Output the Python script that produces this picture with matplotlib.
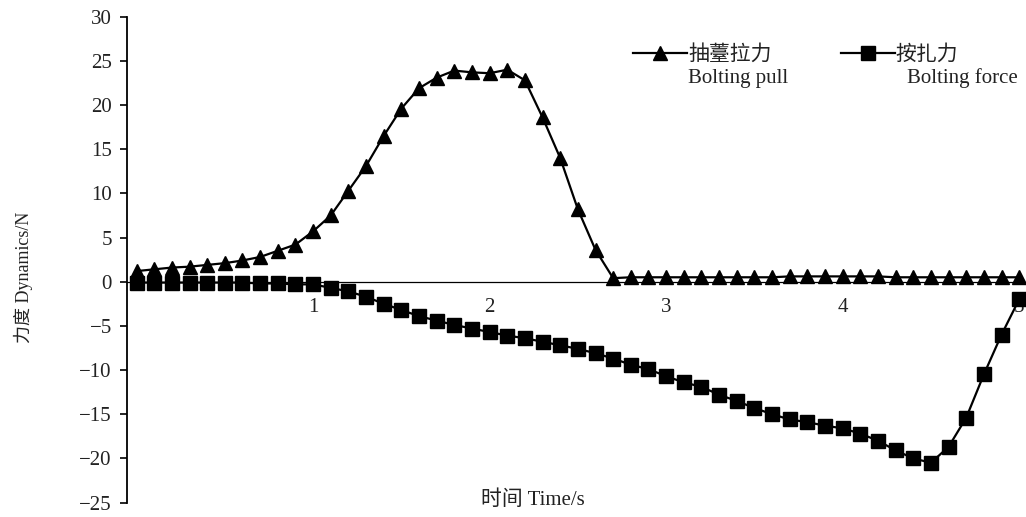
import numpy as np
import matplotlib
matplotlib.use("Agg")
import matplotlib.pyplot as plt

plt.rcParams["font.family"] = ["Liberation Serif", "Noto Sans CJK SC"]
plt.rcParams["axes.unicode_minus"] = True

# sampling time, s
time = np.round(np.arange(0, 5.05, 0.1), 1)

# bolting pull (抽薹拉力), N
pull = [1.2, 1.4, 1.6, 1.7, 1.9, 2.1, 2.4, 2.8, 3.5, 4.2,
        5.7, 7.5, 10.3, 13.1, 16.5, 19.6, 21.9, 23.1, 23.9, 23.7,
        23.6, 24.0, 22.8, 18.6, 14.0, 8.2, 3.6, 0.4, 0.5, 0.5,
        0.5, 0.5, 0.5, 0.5, 0.5, 0.5, 0.5, 0.6, 0.6, 0.6,
        0.6, 0.6, 0.6, 0.5, 0.5, 0.5, 0.5, 0.5, 0.5, 0.5,
        0.5]

# bolting force (按扎力), N
force = [-0.1, -0.1, -0.1, -0.1, -0.1, -0.1, -0.1, -0.2, -0.2, -0.3,
         -0.3, -0.7, -1.1, -1.7, -2.5, -3.2, -3.9, -4.4, -4.9, -5.3,
         -5.7, -6.1, -6.4, -6.8, -7.2, -7.6, -8.1, -8.7, -9.4, -9.9,
         -10.7, -11.4, -11.9, -12.8, -13.5, -14.3, -15.0, -15.6, -15.9, -16.3,
         -16.6, -17.2, -18.0, -19.1, -20.0, -20.5, -18.7, -15.4, -10.5, -6.0,
         -2.0]

fig = plt.figure(figsize=(10.26, 5.17), dpi=100)
ax = fig.add_axes([0.1238, 0.028, 0.8704, 0.9397])

p1, = ax.plot(time, pull, color="black", lw=1.6, marker="^", markersize=10,
              clip_on=False, zorder=3)
p2, = ax.plot(time, force, color="black", lw=1.6, marker="s", markersize=10.5,
              clip_on=False, zorder=4)

ax.set_xlim(-0.054, 5.005)
ax.set_ylim(-25, 30)
ax.set_yticks(range(-25, 31, 5))
ax.set_xticks([1, 2, 3, 4, 5])

for side in ("top", "right"):
    ax.spines[side].set_visible(False)
ax.spines["bottom"].set_position(("data", 0))
ax.spines["bottom"].set_linewidth(0.9)
ax.spines["left"].set_linewidth(1.3)

ax.tick_params(axis="x", length=0, pad=12, labelsize=15, labelcolor="#222222")
ax.tick_params(axis="y", direction="out", length=5, width=1.2, pad=6,
               labelsize=15, labelcolor="#222222")

fig.text(0.519, 0.033, "时间 Time/s", ha="center", va="center",
         fontsize=15, color="#222222")
fig.text(0.023, 0.464, "力度 Dynamics/N", ha="center", va="center",
         rotation=90, fontsize=13, color="#222222")

# legend keeps the Chinese names; English names go on a second line below
leg = ax.legend([p1, p2], ["抽薹拉力", "按扎力"], ncol=2, frameon=False,
                loc="center left", bbox_to_anchor=(0.617, 0.893),
                bbox_transform=fig.transFigure, borderpad=0, borderaxespad=0,
                handlelength=2.6, handletextpad=0.05, columnspacing=3.3,
                fontsize=15)
for txt in leg.get_texts():
    txt.set_color("#222222")

fig.text(0.6706, 0.849, "Bolting pull", ha="left", va="center",
         fontsize=15, color="#222222")
fig.text(0.884, 0.849, "Bolting force", ha="left", va="center",
         fontsize=15, color="#222222")

fig.savefig("out.png", dpi=100)
